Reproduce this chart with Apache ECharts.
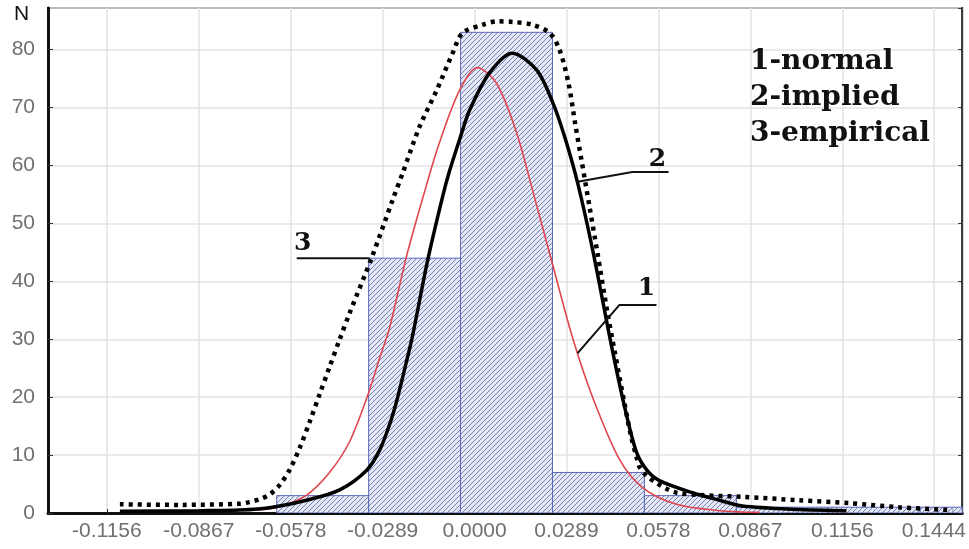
<!DOCTYPE html>
<html>
<head>
<meta charset="utf-8">
<script src="https://cdn.jsdelivr.net/npm/echarts@6/dist/echarts.min.js"></script>
<style>
  html, body { margin: 0; padding: 0; background: #fff; }
  #chart { width: 969px; height: 549px; }
</style>
</head>
<body>
<div id="chart"></div>
<script>
// x tick values (labels under the axis)
const xTicks = [-0.1156, -0.0867, -0.0578, -0.0289, 0, 0.0289, 0.0578, 0.0867, 0.1156, 0.1444]

// histogram (3 - empirical): [binStart, binEnd, N]
const histBins = [
  [-0.0622, -0.0333, 3],
  [-0.0333, -0.0044, 44],
  [-0.0044, 0.0245, 83],
  [0.0245, 0.0534, 7],
  [0.0534, 0.0823, 3],
  [0.0823, 0.1112, 1],
  [0.1112, 0.1401, 1],
  [0.1401, 0.1690, 1]
]

// 1 - normal (red)
const normalCurve = [
  [-0.0685, 0.5], [-0.0613, 1.1], [-0.0528, 3.1], [-0.0456, 7.0], [-0.0393, 12.3],
  [-0.0336, 20.3], [-0.0298, 26.8], [-0.0267, 32.0], [-0.0214, 44.3], [-0.0157, 55.5],
  [-0.0110, 64.0], [-0.0047, 73.0], [0.0009, 76.9], [0.0069, 74.2], [0.0132, 65.7],
  [0.0182, 55.8], [0.0242, 43.6], [0.0308, 30.3], [0.0371, 20.0], [0.0456, 9.2],
  [0.0528, 4.4], [0.0635, 1.5], [0.0770, 0.4], [0.0895, 0.1]
]

// 2 - implied (solid black)
const impliedCurve = [
  [-0.1115, 0.3], [-0.0864, 0.4], [-0.0738, 0.5], [-0.0635, 1.0], [-0.0528, 2.2],
  [-0.0424, 4.0], [-0.0339, 7.4], [-0.0298, 10.9], [-0.0267, 15.3], [-0.0245, 19.3],
  [-0.0220, 24.8], [-0.0195, 30.6], [-0.0148, 43.5], [-0.0101, 54.5], [-0.0079, 59.0],
  [-0.0047, 64.5], [-0.0016, 69.5], [0.0047, 76.0], [0.0119, 79.4], [0.0195, 76.5],
  [0.0245, 71.0], [0.0283, 65.0], [0.0324, 57.0], [0.0371, 45.5], [0.0430, 29.0],
  [0.0471, 18.5], [0.0509, 10.5], [0.0543, 7.3], [0.0581, 5.6], [0.0685, 3.5],
  [0.0770, 2.2], [0.0842, 1.2], [0.1021, 0.6], [0.1169, 0.4]
]

// dotted envelope
const dottedCurve = [
  [-0.1115, 1.5], [-0.0927, 1.4], [-0.0738, 1.6], [-0.0707, 1.9], [-0.0675, 2.4],
  [-0.0644, 3.2], [-0.0613, 4.8], [-0.0581, 7.5], [-0.0550, 11.2], [-0.0518, 15.8],
  [-0.0487, 20.5], [-0.0456, 25.2], [-0.0424, 30.0], [-0.0393, 34.5], [-0.0324, 44.0],
  [-0.0258, 54.0], [-0.0226, 58.7], [-0.0173, 66.7], [-0.0119, 73.0], [-0.0069, 79.4],
  [-0.0038, 82.9], [0.0025, 84.3], [0.0072, 84.9], [0.0119, 84.8], [0.0182, 84.3],
  [0.0236, 82.9], [0.0267, 80.0], [0.0295, 74.3], [0.0317, 67.0], [0.0336, 61.0],
  [0.0361, 53.0], [0.0386, 45.0], [0.0418, 34.5], [0.0440, 28.0], [0.0471, 19.0],
  [0.0493, 13.0], [0.0509, 9.7], [0.0518, 8.0], [0.0543, 6.3], [0.0572, 5.2],
  [0.0603, 4.2], [0.0635, 3.5], [0.0707, 3.1], [0.0842, 2.8], [0.1021, 2.2],
  [0.1178, 1.7], [0.1335, 1.0], [0.1502, 0.5]
]

// pointer lines and their labels
const pointer1 = [[0.0324, 27.6], [0.0455, 35.9], [0.0572, 35.9]]
const pointer2 = [[0.0324, 57.2], [0.0496, 58.9], [0.0610, 58.9]]
const pointer3 = [[-0.0559, 44.0], [-0.0330, 44.0]]
const pointerLabels = [
  { text: '1', at: [0.0540, 38.7] },
  { text: '2', at: [0.0575, 61.0] },
  { text: '3', at: [-0.0540, 46.6] }
]
const legendLines = ['1-normal', '2-implied', '3-empirical']

// hatch pattern for bars
function makeHatch() {
  const s = 5
  const c = document.createElement('canvas')
  c.width = s
  c.height = s
  const g = c.getContext('2d')
  g.fillStyle = '#e4e7f4'
  g.fillRect(0, 0, s, s)
  g.strokeStyle = '#7580bb'
  g.lineWidth = 1
  g.beginPath()
  g.moveTo(-1, s + 1); g.lineTo(s + 1, -1)
  g.moveTo(-1, 1); g.lineTo(1, -1)
  g.moveTo(s - 1, s + 1); g.lineTo(s + 1, s - 1)
  g.stroke()
  return c
}
const hatch = makeHatch()

const chart = echarts.init(document.getElementById('chart'))

const labelFont = { fontFamily: 'Liberation Sans', fontSize: 21, color: '#707070' }
const serifBold = { fontFamily: 'DejaVu Serif', fontWeight: 'bold' }

function pointerSeries(data, label) {
  return {
    type: 'line',
    data: data,
    symbol: 'none',
    silent: true,
    lineStyle: { color: '#111', width: 2 },
    markPoint: {
      symbol: 'circle',
      symbolSize: 1,
      silent: true,
      itemStyle: { color: 'transparent' },
      label: {
        show: true,
        position: 'inside',
        formatter: label.text,
        fontSize: 25,
        color: '#111',
        ...serifBold
      },
      data: [{ coord: label.at }]
    },
    z: 5
  }
}

const option = {
  animation: false,
  backgroundColor: '#fff',
  grid: {
    left: 48, right: 6, top: 8, bottom: 36,
    show: true,
    borderColor: '#3c3c3c',
    borderWidth: 2
  },
  xAxis: {
    type: 'value',
    min: -0.1341,
    max: 0.1533,
    axisLine: { show: true, onZero: false, lineStyle: { color: '#111', width: 3 } },
    axisTick: { show: true, inside: true, length: 4, customValues: xTicks, lineStyle: { color: '#333' } },
    axisLabel: {
      customValues: xTicks,
      formatter: v => v.toFixed(4),
      margin: 8,
      ...labelFont
    },
    splitLine: { show: true, lineStyle: { color: '#e3e3e3', width: 1.5 } }
  },
  yAxis: [
    {
      type: 'value',
      min: 0,
      max: 87.2,
      interval: 10,
      axisLine: { show: true, onZero: false, lineStyle: { color: '#111', width: 3 } },
      axisTick: { show: true, inside: true, length: 5, lineStyle: { color: '#333' } },
      axisLabel: { showMaxLabel: false, margin: 13, ...labelFont },
      splitLine: { show: true, lineStyle: { color: '#e3e3e3', width: 1.5 } }
    },
    {
      type: 'value',
      position: 'right',
      min: 0,
      max: 87.2,
      interval: 10,
      axisLine: { show: true, onZero: false, lineStyle: { color: '#3c3c3c', width: 2 } },
      axisTick: { show: true, inside: true, length: 4, lineStyle: { color: '#333' } },
      axisLabel: { show: false },
      splitLine: { show: false }
    }
  ],
  series: [
    {
      name: 'empirical',
      type: 'custom',
      data: histBins,
      encode: { x: [0, 1], y: 2 },
      clip: true,
      silent: true,
      renderItem(params, api) {
        const top = api.coord([api.value(0), api.value(2)])
        const bot = api.coord([api.value(1), 0])
        const cs = params.coordSys
        const left = Math.max(top[0], cs.x)
        const right = Math.min(bot[0], cs.x + cs.width)
        return {
          type: 'rect',
          shape: { x: left, y: top[1], width: right - left, height: bot[1] - top[1] },
          style: { fill: { image: hatch, repeat: 'repeat' }, stroke: '#5b68b8', lineWidth: 1 }
        }
      },
      z: 1
    },
    {
      name: 'normal',
      type: 'line',
      data: normalCurve,
      symbol: 'none',
      smooth: 0.3,
      silent: true,
      lineStyle: { color: '#e0464f', width: 1.6 },
      z: 3
    },
    {
      name: 'implied',
      type: 'line',
      data: impliedCurve,
      symbol: 'none',
      smooth: 0.3,
      silent: true,
      lineStyle: { color: '#000', width: 3.5 },
      z: 4
    },
    {
      name: 'dotted',
      type: 'line',
      data: dottedCurve,
      symbol: 'none',
      smooth: 0.3,
      silent: true,
      lineStyle: { color: '#000', width: 4.5, type: [4, 5], cap: 'butt' },
      z: 4
    },
    pointerSeries(pointer1, pointerLabels[0]),
    pointerSeries(pointer2, pointerLabels[1]),
    pointerSeries(pointer3, pointerLabels[2])
  ],
  graphic: [
    {
      type: 'text',
      left: 14,
      top: 4,
      z: 100,
      style: { text: 'N', fontFamily: 'Liberation Sans', fontSize: 21, fill: '#111' }
    },
    ...legendLines.map((t, i) => ({
      type: 'text',
      x: 750,
      y: 62 + i * 36,
      z: 100,
      style: {
        text: t,
        fontFamily: 'DejaVu Serif',
        fontWeight: 'bold',
        fontSize: 28,
        fill: '#111',
        verticalAlign: 'middle'
      }
    }))
  ]
}

chart.setOption(option)
</script>
</body>
</html>
